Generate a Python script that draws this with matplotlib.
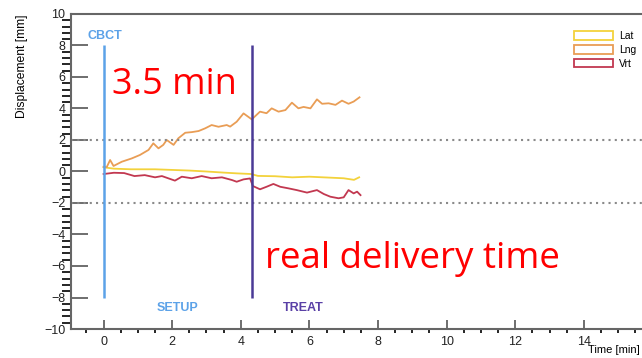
import matplotlib.pyplot as plt
from matplotlib.patches import Patch
from matplotlib.ticker import MultipleLocator

plt.rcParams["font.family"] = ["Liberation Sans", "DejaVu Sans"]

# Lng (longitudinal) displacement
t_lng = [0.0, 0.09, 0.19, 0.29, 0.53, 0.82, 1.06, 1.31, 1.45, 1.6, 1.74, 1.84, 2.04,
         2.18, 2.38, 2.57, 2.77, 2.96, 3.15, 3.35, 3.59, 3.69, 3.88, 4.08, 4.32, 4.56,
         4.75, 4.9, 5.1, 5.3, 5.49, 5.68, 5.83, 6.03, 6.22, 6.37, 6.56, 6.76, 6.95,
         7.14, 7.29, 7.46]
lng = [0.3, 0.27, 0.73, 0.35, 0.62, 0.83, 1.05, 1.37, 1.79, 1.47, 1.69, 2.0, 1.69,
       2.11, 2.46, 2.5, 2.57, 2.74, 2.95, 2.84, 2.95, 2.85, 3.16, 3.69, 3.31, 3.8,
       3.7, 4.01, 3.8, 3.9, 4.37, 4.01, 4.1, 4.01, 4.58, 4.3, 4.33, 4.23, 4.5,
       4.3, 4.44, 4.71]

# Lat (lateral)
t_lat = [0.0, 0.3, 0.8, 1.5, 2.0, 2.5, 3.0, 3.5, 3.9, 4.3, 4.5, 5.0, 5.5, 6.0,
         6.5, 7.0, 7.3, 7.45]
lat = [0.27, 0.18, 0.14, 0.14, 0.1, 0.06, 0.0, -0.07, -0.12, -0.16, -0.28, -0.3,
       -0.37, -0.33, -0.38, -0.43, -0.53, -0.37]

# Vrt (vertical)
t_vrt = [0.0, 0.3, 0.6, 0.9, 1.2, 1.5, 1.7, 2.08, 2.28, 2.57, 2.86, 3.15, 3.45,
         3.74, 3.88, 4.08, 4.27, 4.35, 4.56, 4.75, 4.95, 5.15, 5.39, 5.63, 5.93,
         6.22, 6.42, 6.61, 6.85, 7.0, 7.14, 7.29, 7.39, 7.49]
vrt = [-0.16, -0.08, -0.1, -0.29, -0.23, -0.37, -0.29, -0.58, -0.33, -0.43, -0.29,
       -0.43, -0.37, -0.54, -0.65, -0.5, -0.44, -0.92, -1.13, -0.97, -0.79, -0.97,
       -1.07, -1.18, -1.34, -1.18, -1.43, -1.6, -1.7, -1.64, -1.18, -1.39, -1.28, -1.5]

series = ["Lat", "Lng", "Vrt"]
colors = {"Lat": "#f3d23c", "Lng": "#e99d55", "Vrt": "#c23850"}

t_cbct = 0.0
t_treat = 4.33

fig = plt.figure(figsize=(6.42, 3.58), dpi=100)
ax = fig.add_axes([71 / 642, 1 - 329 / 358, (649 - 71) / 642, (329 - 14) / 358])

ax.plot(t_lat, lat, color=colors["Lat"], lw=1.3)
ax.plot(t_lng, lng, color=colors["Lng"], lw=1.3)
ax.plot(t_vrt, vrt, color=colors["Vrt"], lw=1.3)

ax.axhline(2, color="#8a8a8a", lw=1.5, ls=(0, (1, 2)))
ax.axhline(-2, color="#8a8a8a", lw=1.5, ls=(0, (1, 2)))

ax.vlines(t_cbct, -8, 8, color="#5ca2e8", lw=1.8)
ax.vlines(t_treat, -8, 8, color="#4a3a96", lw=1.8)

ax.text(0.05, 8.6, "CBCT", color="#5ca2e8", fontsize=9, ha="center", va="center",
        fontweight="bold")
ax.text(2.17, -8.67, "SETUP", color="#5ca2e8", fontsize=9, ha="center", va="center",
        fontweight="bold")
ax.text(5.82, -8.67, "TREAT", color="#5a40a6", fontsize=9, ha="center", va="center",
        fontweight="bold")

# the two annotations in red
ax.text(0.25, 4.9, "3.5 min", color="red", fontsize=26, family="Open Sans",
        ha="left", va="baseline")
ax.text(4.7, -6.15, "real delivery time", color="red", fontsize=26.5, family="Open Sans",
        ha="left", va="baseline")

ax.set_xlim(-0.95, 15.9)
ax.set_ylim(-10, 10)
ax.xaxis.set_major_locator(MultipleLocator(2))
ax.xaxis.set_minor_locator(MultipleLocator(0.5))
ax.yaxis.set_major_locator(MultipleLocator(2))
ax.yaxis.set_minor_locator(MultipleLocator(0.4))
ax.tick_params(axis="both", direction="in", colors="#555555", labelcolor="#222222",
               labelsize=9, width=1.2)
ax.tick_params(axis="y", which="major", length=12, pad=4)
ax.tick_params(axis="y", which="minor", length=6.5, width=1.2)
ax.tick_params(axis="x", which="major", length=6.5, pad=5)
ax.tick_params(axis="x", which="minor", length=3, width=1.2)
for s in ax.spines.values():
    s.set_color("#666666")
    s.set_linewidth(1.5)

fig.text(22 / 642, 1 - 15 / 358, "Displacement [mm]", rotation=90, ha="center",
         va="top", fontsize=8.7)
fig.text(640 / 642, 1 - 350 / 358, "Time [min]", ha="right", va="center", fontsize=8)

handles = [Patch(facecolor="white", edgecolor=colors[s], lw=1.3, label=s) for s in series]
fig.legend(handles=handles, loc="upper right", bbox_to_anchor=(646 / 642, 1 - 22 / 358),
           frameon=False, fontsize=7.5, handlelength=3.8, handleheight=0.9,
           labelspacing=0.35, handletextpad=0.6)

fig.savefig("out.png", dpi=100)
